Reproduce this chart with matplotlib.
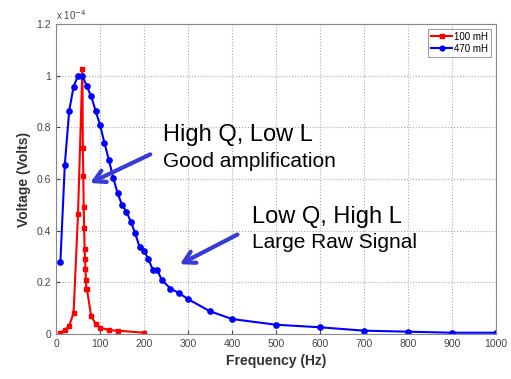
import matplotlib
matplotlib.use("Agg")
import matplotlib.pyplot as plt
from matplotlib.ticker import FuncFormatter
import numpy as np

plt.rcParams['font.family'] = ['Liberation Sans', 'DejaVu Sans']

# 100 mH coil (values in units of 1e-4 V)
freq_100 = [10, 20, 30, 40, 50, 60, 61, 62, 63, 64, 65, 66, 67, 68, 69, 70,
            80, 90, 100, 120, 140, 200]
volt_100 = [0.005, 0.015, 0.032, 0.082, 0.464, 1.025, 0.72, 0.61, 0.49, 0.41,
            0.33, 0.29, 0.25, 0.21, 0.176, 0.176, 0.069, 0.04, 0.025, 0.015,
            0.013, 0.005]

# 470 mH coil
freq_470 = [10, 20, 30, 40, 50, 60, 70, 80, 90, 100, 110, 120, 130, 140, 150,
            160, 170, 180, 190, 200, 210, 220, 230, 240, 260, 280, 300, 350,
            400, 500, 600, 700, 800, 900, 1000]
volt_470 = [0.28, 0.655, 0.864, 0.958, 1.0, 1.0, 0.959, 0.92, 0.864, 0.81,
            0.74, 0.675, 0.605, 0.545, 0.50, 0.474, 0.435, 0.39, 0.336, 0.323,
            0.29, 0.249, 0.249, 0.21, 0.176, 0.158, 0.135, 0.088, 0.058,
            0.036, 0.026, 0.013, 0.009, 0.005, 0.005]

scale = 1e-4
x_ticks = list(range(0, 1001, 100))
y_ticks = [0, 0.2, 0.4, 0.6, 0.8, 1.0, 1.2]

fig = plt.figure(figsize=(5.11, 3.79), dpi=100)
ax = fig.add_axes([0.1096, 0.1187, 0.861, 0.818])

ax.plot(freq_100, np.array(volt_100) * scale, '-s', color='#ff0000', lw=1.5,
        ms=3.0, label='100 mH')
ax.plot(freq_470, np.array(volt_470) * scale, '-o', color='#0000ff', lw=1.5,
        ms=3.8, label='470 mH')

ax.set_xlim(0, 1000)
ax.set_ylim(0, 1.2 * scale)
ax.set_xticks(x_ticks)
ax.set_yticks([v * scale for v in y_ticks])
ax.yaxis.set_major_formatter(FuncFormatter(lambda v, p: '%g' % round(v / scale, 3)))
ax.tick_params(direction='in', labelsize=7.5, colors='#444444', length=3)
ax.grid(True, linestyle=':', color='#aaaaaa', lw=0.8)
for s in ax.spines.values():
    s.set_color('#888888')

ax.text(0.0, 1.005, r'x 10$^{-4}$', transform=ax.transAxes, fontsize=7,
        color='#444444', va='bottom', ha='left')

ax.set_xlabel('Frequency (Hz)', fontsize=10, fontweight='bold', color='#333333')
ax.set_ylabel('Voltage (Volts)', fontsize=10, fontweight='bold', color='#333333')

leg = ax.legend(loc='upper right', fontsize=7, frameon=True, fancybox=False,
                handlelength=2.2, borderpad=0.3, labelspacing=0.2,
                handletextpad=0.2, markerscale=0.9)
leg.get_frame().set_edgecolor('#888888')
leg.get_frame().set_linewidth(0.8)

arrow_color = '#3a3ad8'
arrow_style = '->,head_length=0.8,head_width=0.45'
ax.text(0.243, 0.6226, 'High Q, Low L', transform=ax.transAxes, fontsize=17,
        va='baseline', ha='left')
ax.text(0.243, 0.539, 'Good amplification', transform=ax.transAxes, fontsize=15,
        va='baseline', ha='left')
ax.annotate('', xy=(72, 0.58 * scale), xytext=(220, 0.70 * scale),
            arrowprops=dict(arrowstyle=arrow_style, color=arrow_color, lw=3))

ax.text(0.445, 0.358, 'Low Q, High L', transform=ax.transAxes, fontsize=17,
        va='baseline', ha='left')
ax.text(0.445, 0.2774, 'Large Raw Signal', transform=ax.transAxes, fontsize=15,
        va='baseline', ha='left')
ax.annotate('', xy=(276, 0.265 * scale), xytext=(418, 0.39 * scale),
            arrowprops=dict(arrowstyle=arrow_style, color=arrow_color, lw=3))

fig.savefig('out.png', dpi=100)
